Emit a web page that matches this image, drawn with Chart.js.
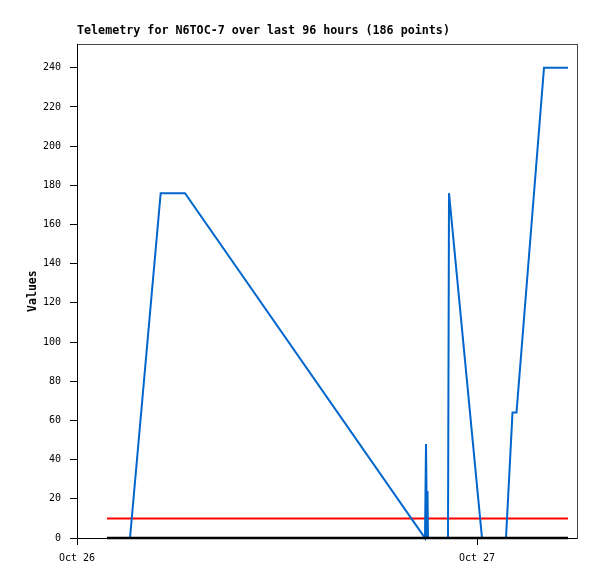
<!DOCTYPE html>
<html>
<head>
<meta charset="UTF-8">
<title>Telemetry for N6TOC-7</title>
<script src="https://cdn.jsdelivr.net/npm/chart.js@4"></script>
<style>
  body { margin: 0; background: #fff; }
  canvas { display: block; }
</style>
</head>
<body>
<canvas id="chart" width="597" height="579"></canvas>
<script>
// hours since Oct 26 00:00
const xTickHours = [0, 24];
const xTickLabels = ['Oct 26', 'Oct 27'];
const telemetryHours = [1.8, 3.18, 5.02, 6.48, 20.88, 20.94, 21.0, 21.03, 21.06, 22.26, 22.32, 24.3, 25.74, 26.13, 26.37, 28.02, 29.46];
const telemetryValues = [0, 0, 176, 176, 0, 48, 0, 24, 0, 0, 176, 0, 0, 64, 64, 240, 240];
const refHours = [1.8, 29.46];
const limitValues = [10, 10];
const baseValues = [0, 0];

const toPoints = (xs, ys) => xs.map((x, i) => ({ x, y: ys[i] }));
const mono = 'DejaVu Sans Mono';

const ctx = document.getElementById('chart').getContext('2d');
new Chart(ctx, {
  type: 'line',
  data: {
    datasets: [
      { label: 'base', data: toPoints(refHours, baseValues), borderColor: '#000000', borderWidth: 2.5, pointRadius: 0, clip: false },
      { label: 'telemetry', data: toPoints(telemetryHours, telemetryValues), borderColor: '#0066CC', borderWidth: 2, pointRadius: 0, tension: 0, clip: false },
      { label: 'limit', data: toPoints(refHours, limitValues), borderColor: '#FF0000', borderWidth: 2, pointRadius: 0, clip: false }
    ]
  },
  options: {
    responsive: false,
    animation: false,
    layout: { padding: 0 },
    plugins: {
      legend: { display: false },
      tooltip: { enabled: false },
      title: {
        display: true,
        text: 'Telemetry for N6TOC-7 over last 96 hours (186 points)',
        align: 'start',
        fullSize: false,
        color: '#000',
        font: { family: mono, size: 11.7, weight: 'bold', lineHeight: 1.2 },
        padding: { top: 24, bottom: 0 }
      }
    },
    scales: {
      x: {
        type: 'linear',
        position: 'bottom',
        min: 0,
        max: 30,
        afterBuildTicks: (scale) => { scale.ticks = xTickHours.map(v => ({ value: v })); },
        afterFit: (scale) => { scale.height = 41; },
        ticks: {
          autoSkip: false,
          maxRotation: 0,
          color: '#000',
          padding: 7,
          font: { family: mono, size: 10 },
          callback: (v) => xTickLabels[xTickHours.indexOf(v)] || ''
        },
        grid: { drawOnChartArea: false, drawTicks: true, tickLength: 7, color: '#000' },
        border: { display: true, color: '#000', width: 1 }
      },
      x2: {
        type: 'linear',
        position: 'top',
        afterFit: (scale) => { scale.height = 6.2; },
        ticks: { display: false },
        grid: { drawOnChartArea: false, drawTicks: false },
        border: { display: true, color: '#444444', width: 1 }
      },
      y: {
        type: 'linear',
        position: 'left',
        min: 0,
        max: 252,
        afterBuildTicks: (scale) => { scale.ticks = scale.ticks.filter(t => t.value % 20 === 0); },
        afterFit: (scale) => { scale.width = 77; },
        ticks: {
          stepSize: 20,
          color: '#000',
          padding: 9,
          font: { family: mono, size: 10 }
        },
        grid: { drawOnChartArea: false, drawTicks: true, tickLength: 7, color: '#000' },
        border: { display: true, color: '#000', width: 1 },
        title: {
          display: true,
          text: 'Values',
          color: '#000',
          font: { family: mono, size: 11.5, weight: 'bold', lineHeight: 1.2 },
          padding: { top: 26, bottom: 0 }
        }
      },
      y2: {
        type: 'linear',
        position: 'right',
        afterFit: (scale) => { scale.width = 20; },
        ticks: { display: false },
        grid: { drawOnChartArea: false, drawTicks: false },
        border: { display: true, color: '#444444', width: 1 }
      }
    }
  }
});
</script>
</body>
</html>
